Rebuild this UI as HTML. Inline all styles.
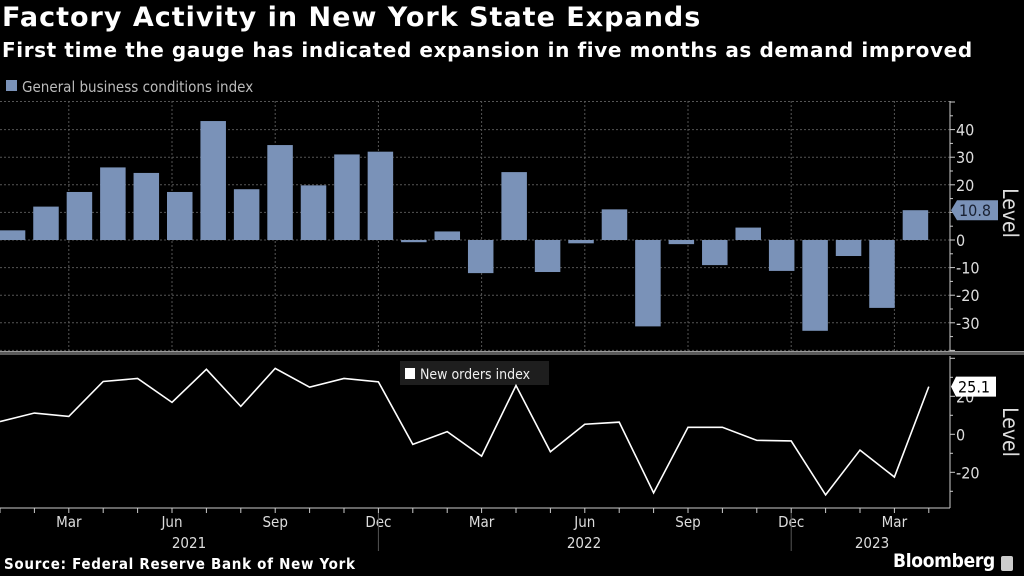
<!DOCTYPE html>
<html><head><meta charset="utf-8"><style>
html,body{margin:0;padding:0;background:#000;}
body{width:1024px;height:576px;overflow:hidden;position:relative;font-family:"DejaVu Sans","Liberation Sans",sans-serif;color:#fff;}
.t{position:absolute;white-space:nowrap;}
</style></head><body>
<div class="t" style="left:2px;top:2px;font-size:27px;letter-spacing:1px;font-weight:bold;">Factory Activity in New York State Expands</div>
<div class="t" style="left:2px;top:38px;font-size:20px;letter-spacing:0.6px;font-weight:bold;">First time the gauge has indicated expansion in five months as demand improved</div>
<svg id="c" width="1024" height="576" style="position:absolute;left:0;top:0"></svg>
<script>
const months=["Jan","Feb","Mar","Apr","May","Jun","Jul","Aug","Sep","Oct","Nov","Dec","Jan","Feb","Mar","Apr","May","Jun","Jul","Aug","Sep","Oct","Nov","Dec","Jan","Feb","Mar","Apr"];
const businessValues=[3.5,12.1,17.4,26.3,24.3,17.4,43.1,18.4,34.4,19.8,31.0,32.0,-0.8,3.1,-12.0,24.6,-11.6,-1.2,11.1,-31.3,-1.5,-9.1,4.5,-11.2,-32.9,-5.8,-24.6,10.8];
const ordersValues=[6.7,11.2,9.4,27.8,29.4,16.8,34.2,14.7,34.7,24.8,29.4,27.6,-5.3,1.4,-11.5,25.7,-9.2,5.3,6.4,-30.8,3.7,3.7,-3.2,-3.5,-31.9,-8.3,-22.5,25.1];
const topTicks=[40,30,20,10,0,-10,-20,-30];
const topTickLabels=["40","30","20","","0","-10","-20","-30"];
const bottomTicks=[20,0,-20];
const yearLabels=[["2021",5],["2022",17],["2023",26]];

const NS="http://www.w3.org/2000/svg";
const svg=document.getElementById('c');
const FF='DejaVu Sans Condensed, DejaVu Sans, sans-serif';
function mk(tag,a,parent){const e=document.createElementNS(NS,tag);for(const k in a)e.setAttribute(k,a[k]);(parent||svg).appendChild(e);return e;}
const yTop=v=>240-v*2.76;
const yBot=v=>434.3-v*1.9;
const xBar=i=>-0.2+33.44*i;
const xLine=i=>34.4*i;
const xGrid=i=>34.4*i;
const plotR=950;

let e=mk('rect',{x:6,y:80,width:11,height:11,fill:'#7a92b8'});

e=mk('text',{x:22,y:92,fill:'#bbb','font-size':15,'font-family':FF});e.textContent='General business conditions index';


for(let v=40;v>=-40;v-=10){const l=mk('line',{x1:0,x2:plotR,y1:yTop(v),y2:yTop(v),stroke:'#555','stroke-dasharray':'2,2','stroke-width':1});
}
mk('line',{x1:0,x2:plotR,y1:101.5,y2:101.5,stroke:'#555','stroke-dasharray':'2,2'});
for(let i=2;i<28;i+=3){const l=mk('line',{x1:xGrid(i),x2:xGrid(i),y1:101,y2:352,stroke:'#555','stroke-dasharray':'2,2'});
}

businessValues.forEach((v,i)=>{const y0=yTop(0),y1=yTop(v);
const r=mk('rect',{x:Math.max(0,xBar(i)),y:Math.min(y0,y1),width:25.5+Math.min(0,xBar(i)),height:Math.max(1.5,Math.abs(y1-y0)),fill:'#7a92b8'});
});

mk('line',{x1:plotR,x2:plotR,y1:101,y2:352,stroke:'#ccc'});
for(let v=-40;v<=50;v+=5){mk('line',{x1:plotR,x2:plotR+(v%10===0?5:3),y1:yTop(v),y2:yTop(v),stroke:'#ccc'});}
topTicks.forEach((v,k)=>{if(!topTickLabels[k])return;const t=mk('text',{x:956,y:yTop(v)+6,fill:'#ddd','font-size':16,'font-family':FF});t.textContent=topTickLabels[k];
});
const last=businessValues[27];
e=mk('path',{d:`M951 ${yTop(last)} L957 ${yTop(last)-10} L998 ${yTop(last)-10} L998 ${yTop(last)+10} L957 ${yTop(last)+10} Z`,fill:'#7a92b8'});

e=mk('text',{x:959,y:yTop(last)+6,fill:'#1a2233','font-size':16,'font-family':FF});e.textContent=last.toFixed(1);

e=mk('text',{x:1003,y:213,fill:'#ddd','font-size':21,transform:'rotate(90 1003 213)','text-anchor':'middle','font-family':FF});e.textContent='Level';


e=mk('rect',{x:0,y:351,width:1024,height:4,fill:'#5a5a5a'});

mk('rect',{x:0,y:351,width:1024,height:1,fill:'#999'});

e=mk('rect',{x:400,y:361,width:149,height:24,fill:'#1e1e1e'});
mk('rect',{x:405,y:368,width:10,height:11,fill:'#fff'});
e=mk('text',{x:420,y:379,fill:'#eee','font-size':14,'font-family':FF});e.textContent='New orders index';


const pts=ordersValues.map((v,i)=>xLine(i)+','+yBot(v)).join(' ');
e=mk('polyline',{points:pts,fill:'none',stroke:'#fff','stroke-width':1.6,'stroke-linejoin':'miter'});


mk('line',{x1:plotR,x2:plotR,y1:356,y2:508,stroke:'#ccc'});
for(let v=-30;v<=40;v+=10){mk('line',{x1:plotR,x2:plotR+(v%20===0?5:3),y1:yBot(v),y2:yBot(v),stroke:'#ccc'});}
bottomTicks.forEach(v=>{const t=mk('text',{x:956,y:yBot(v)+6,fill:'#ddd','font-size':16,'font-family':FF});t.textContent=String(v);
});
const lastO=ordersValues[27];
e=mk('path',{d:`M951 ${yBot(lastO)} L956 ${yBot(lastO)-10} L996 ${yBot(lastO)-10} L996 ${yBot(lastO)+10} L956 ${yBot(lastO)+10} Z`,fill:'#fff'});

e=mk('text',{x:958,y:yBot(lastO)+6,fill:'#000','font-size':16,'font-family':FF});e.textContent=lastO.toFixed(1);

e=mk('text',{x:1003,y:432,fill:'#ddd','font-size':21,transform:'rotate(90 1003 432)','text-anchor':'middle','font-family':FF});e.textContent='Level';


mk('line',{x1:0,x2:plotR,y1:508,y2:508,stroke:'#ccc'});
for(let i=0;i<28;i++){mk('line',{x1:xGrid(i),x2:xGrid(i),y1:508,y2:513,stroke:'#ccc'});}
for(let i=2;i<28;i+=3){const t=mk('text',{x:xGrid(i),y:527,fill:'#ddd','font-size':15,'text-anchor':'middle','font-family':FF});t.textContent=months[i];
}
[11,23].forEach(i=>mk('line',{x1:xGrid(i),x2:xGrid(i),y1:513,y2:551,stroke:'#555'}));
yearLabels.forEach(([y,i])=>{const t=mk('text',{x:i===5?189:(i===17?584:872),y:548,fill:'#ddd','font-size':15,'text-anchor':'middle','font-family':FF});t.textContent=y;
});
</script>
<div class="t" style="left:4px;top:555px;font-size:15px;letter-spacing:0.7px;font-weight:bold;font-family:'DejaVu Sans Condensed','DejaVu Sans',sans-serif;">Source: Federal Reserve Bank of New York</div>
<div class="t" style="left:893px;top:550px;font-size:19px;font-weight:bold;letter-spacing:-0.3px;font-family:'DejaVu Sans Condensed','DejaVu Sans',sans-serif;">Bloomberg</div>
<div style="position:absolute;left:1001px;top:556px;width:12px;height:15px;background:#ccc;border-radius:2px;"></div>
</body></html>
